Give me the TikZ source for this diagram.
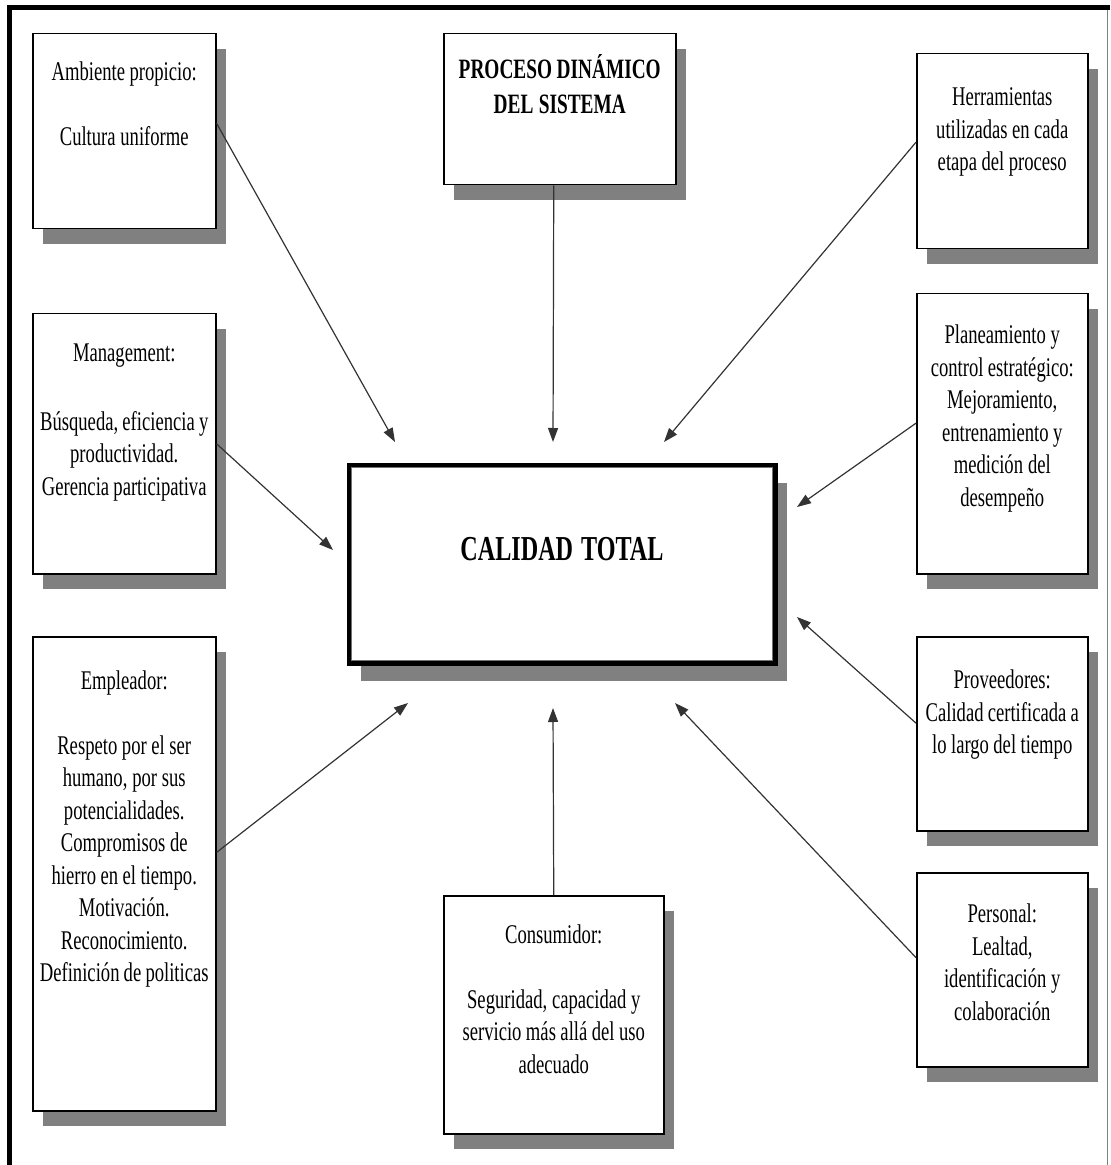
\documentclass[tikz,border=0pt]{standalone}
\usepackage{fontspec}
\setmainfont[FakeStretch=0.69]{Liberation Serif}
\usetikzlibrary{shadows, arrows.meta}

\begin{document}
\begin{tikzpicture}
  [x=0.5pt, y=-0.5pt,
   every node/.style={execute at begin node={\spaceskip=0.15em plus 0.05em\relax}},
   sombra/.style={drop shadow={shadow xshift=#1, shadow yshift=-1.5*#1, fill=black!50, opacity=1}},
   sombra/.default=5pt,
   caja/.style={draw, line width=0.75pt, fill=white, anchor=north west, align=center,
     inner xsep=1pt, inner ysep=0pt, text width=#1, sombra,
     font=\fontsize{13.5}{16.25}\selectfont},
   flecha/.style={draw=black!80, line width=0.6pt, -{Triangle[length=7pt, width=5pt]}}]

  \useasboundingbox (0,0) rectangle (1110,1165);
  \draw [line width=2.5pt] (9,1165) -- (9,7.5) -- (1110,7.5);
  \draw [black!50, line width=0.5pt] (1107,10) -- (1107,1165);

  % left column
  \node [caja=89.5pt, text height=23.5pt, text depth=74pt] (amb) at (32,33)
    {Ambiente propicio:\\[16pt]Cultura uniforme};
  \node [caja=89.5pt, text height=24pt, text depth=106pt] (mgmt) at (32,313)
    {Management:\\[18pt]Búsqueda, eficiencia y\\productividad.\\Gerencia participativa};
  \node [caja=89.5pt, text height=26.5pt, text depth=210.5pt] (emp) at (32,636)
    {Empleador:\\[16pt]Respeto por el ser\\humano, por sus\\potencialidades.\\Compromisos de\\hierro en el tiempo.\\Motivación.\\Reconocimiento.\\Definición de politicas};

  % middle column
  \node [caja=114pt, text height=22.5pt, text depth=53pt,
    font=\bfseries\fontsize{14}{17.5}\selectfont] (proc) at (443,33)
    {PROCESO DINÁMICO\\DEL SISTEMA};
  \node [draw, line width=2.5pt, fill=white, anchor=north west, align=center,
    inner sep=0pt, text width=213pt, text height=47.75pt, text depth=51.25pt,
    font=\bfseries\fontsize{17.5}{21}\selectfont, sombra=6pt] (cal) at (346.5,462.5)
    {CALIDAD TOTAL};
  \draw [black!55, line width=0.4pt] ([shift={(2.5pt,-2.5pt)}]cal.north west)
    rectangle ([shift={(-2.5pt,2.5pt)}]cal.south east);
  \node [caja=108pt, text height=24pt, text depth=95pt] (cons) at (443,895)
    {Consumidor:\\[16pt]Seguridad, capacidad y\\servicio más allá del uso\\adecuado};

  % right column
  \node [caja=83.5pt, text height=26pt, text depth=71.5pt] (herr) at (916,53)
    {Herramientas\\utilizadas en cada\\etapa del proceso};
  \node [caja=83.5pt, text height=25pt, text depth=115pt] (plan) at (916,293)
    {Planeamiento y\\control estratégico:\\Mejoramiento,\\entrenamiento y\\medición del\\desempeño};
  \node [caja=83.5pt, text height=26pt, text depth=71pt] (prov) at (916,636)
    {Proveedores:\\Calidad certificada a\\lo largo del tiempo};
  \node [caja=83.5pt, text height=25pt, text depth=72pt] (pers) at (916,872)
    {Personal:\\Lealtad,\\identificación y\\colaboración};

  \coordinate (pA) at (395,442);
  \coordinate (pB) at (553,442);
  \coordinate (pC) at (664,442);
  \coordinate (pD) at (333,550);
  \coordinate (pE) at (797,507);
  \coordinate (pF) at (408,703);
  \coordinate (pG) at (553,708);
  \coordinate (pH) at (797,617);
  \coordinate (pI) at (675,703);

  \draw [flecha] (amb.5) -- (pA);
  \draw [flecha] (proc.south -| cons.north) -- (pB);
  \draw [flecha] (herr.174) -- (pC);
  \draw [flecha] (mgmt.east) -- (pD);
  \draw [flecha] (plan.173) -- (pE);
  \draw [flecha] (emp.13) -- (pF);
  \draw [flecha] (cons.north) -- (pG);
  \draw [flecha] (prov.173) -- (pH);
  \draw [flecha] (pers.172) -- (pI);

\end{tikzpicture}
\end{document}
